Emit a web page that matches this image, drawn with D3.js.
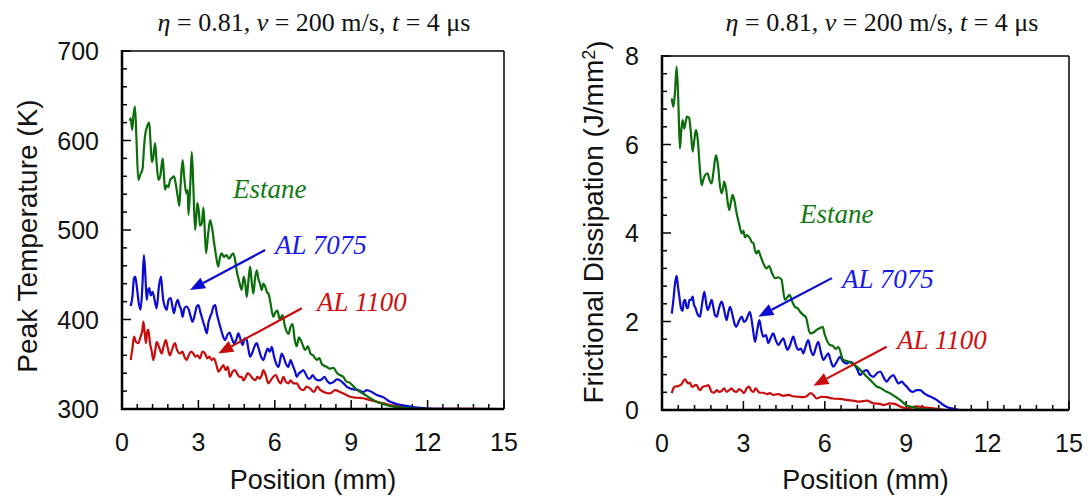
<!DOCTYPE html>
<html><head><meta charset="utf-8">
<script src="https://cdn.jsdelivr.net/npm/d3@7"></script>
<style>body{margin:0;background:#fff}</style>
</head><body><svg id="c" width="1088" height="497"></svg>
<script>
// ---------- data ----------
const xTicks = [0, 3, 6, 9, 12, 15];
const tempTicks = [300, 400, 500, 600, 700];
const dissTicks = [0, 2, 4, 6, 8];
const seriesNames = ["Estane", "AL 7075", "AL 1100"];

// Left: peak temperature (K) vs position (mm)
const tempEstane = [[0.30,622],[0.34,625],[0.40,612],[0.45,628],[0.51,638],[0.57,600],[0.64,556],[0.72,562],[0.81,569],[0.86,590],[0.90,604],[0.98,615],[1.07,620],[1.12,598],[1.17,576],[1.22,580],[1.30,597],[1.36,575],[1.43,556],[1.50,560],[1.60,580],[1.65,560],[1.69,545],[1.75,550],[1.82,548],[1.89,556],[1.96,558],[2.04,560],[2.12,550],[2.20,535],[2.25,527],[2.30,550],[2.38,578],[2.44,560],[2.52,541],[2.58,545],[2.61,517],[2.68,550],[2.74,587],[2.80,550],[2.87,500],[2.93,520],[2.96,530],[3.02,520],[3.06,505],[3.13,507],[3.20,525],[3.30,474],[3.38,495],[3.46,511],[3.55,500],[3.62,485],[3.70,470],[3.78,459],[3.85,470],[3.92,474],[4.00,470],[4.10,472],[4.20,468],[4.30,472],[4.37,474],[4.45,465],[4.50,455],[4.58,445],[4.65,437],[4.70,433],[4.78,448],[4.84,440],[4.90,425],[4.97,445],[5.03,459],[5.10,440],[5.16,429],[5.22,445],[5.29,455],[5.36,445],[5.42,440],[5.49,433],[5.55,440],[5.62,437],[5.70,430],[5.75,429],[5.82,420],[5.94,403],[6.02,408],[6.10,410],[6.20,400],[6.30,405],[6.40,392],[6.54,384],[6.62,392],[6.70,395],[6.78,378],[6.86,370],[6.95,380],[7.05,375],[7.19,366],[7.30,370],[7.40,362],[7.50,360],[7.65,355],[7.75,357],[7.85,350],[8.04,347],[8.15,345],[8.30,346],[8.45,340],[8.55,338],[8.69,336],[8.80,331],[8.96,329],[9.10,325],[9.25,321],[9.48,317],[9.70,313],[10.0,308],[10.3,305],[10.66,302.6],[11.0,301.5],[11.3,300.8],[11.8,300.3],[12.5,300],[15,300]];
const tempAL7075 = [[0.34,415],[0.41,425.6],[0.47,446],[0.52,448],[0.58,437],[0.66,418],[0.73,411],[0.80,437],[0.86,472],[0.92,448],[0.97,422],[1.02,433],[1.07,435],[1.13,427],[1.20,431],[1.28,422],[1.36,412.5],[1.45,437],[1.53,448],[1.58,433],[1.62,422],[1.69,414],[1.75,410.6],[1.83,422],[1.91,424],[1.98,414.5],[2.04,407],[2.11,416],[2.19,422],[2.25,416],[2.32,411],[2.38,403],[2.45,412.5],[2.54,414.5],[2.62,411],[2.70,403],[2.77,397.5],[2.87,407],[2.93,414.5],[3.00,416],[3.07,409],[3.16,400],[3.24,392.5],[3.33,384.5],[3.39,396],[3.46,403],[3.52,407],[3.59,414.5],[3.66,416],[3.72,407],[3.78,400],[3.89,388.5],[3.97,381],[4.05,377],[4.14,383],[4.22,385.5],[4.31,379],[4.40,373.5],[4.48,377],[4.57,384.5],[4.66,377],[4.74,371.5],[4.82,379],[4.90,377],[4.96,367.5],[5.03,358.5],[5.13,364],[5.23,371.5],[5.29,373.5],[5.38,366],[5.46,358.5],[5.55,354.7],[5.64,362],[5.72,367.5],[5.81,364],[5.88,369.5],[5.97,358.5],[6.05,351],[6.14,347],[6.21,354.7],[6.27,362],[6.34,358.5],[6.43,351],[6.53,347],[6.62,354.7],[6.70,349],[6.80,341.7],[6.86,336],[6.95,340],[7.04,341.7],[7.12,343.5],[7.23,338],[7.32,334],[7.38,334],[7.49,338],[7.58,334],[7.71,332],[7.84,333],[7.95,336],[8.04,332],[8.17,328.6],[8.30,330],[8.43,333],[8.56,332],[8.70,328.6],[8.83,324.8],[8.96,323],[9.09,322],[9.29,321],[9.48,319],[9.61,321],[9.81,319],[10.01,315.6],[10.27,313],[10.53,308],[10.79,305.6],[11.05,304],[11.3,302.6],[11.6,301.5],[12.0,300.5],[12.5,300.2],[15,300]];
const tempAL1100 = [[0.34,354.7],[0.41,367.7],[0.47,380.8],[0.55,375],[0.64,373.5],[0.73,380.8],[0.80,388],[0.84,397.6],[0.89,385],[0.94,373.5],[0.99,386.6],[1.03,388.6],[1.10,373.5],[1.17,364],[1.23,354.7],[1.30,364],[1.36,375],[1.45,369.5],[1.56,362],[1.63,369.5],[1.72,377],[1.80,367.7],[1.88,360],[1.98,367.7],[2.08,373.5],[2.16,366],[2.28,362],[2.37,364],[2.45,358.5],[2.54,354.7],[2.62,360],[2.71,364],[2.80,362],[2.88,358.5],[2.97,360],[3.06,356.5],[3.16,364],[3.26,362],[3.35,356.5],[3.43,358.5],[3.52,354.7],[3.61,356.5],[3.69,351],[3.79,341.7],[3.88,345],[3.98,349],[4.07,343.5],[4.15,347],[4.24,336],[4.34,341.7],[4.43,343.5],[4.51,340],[4.61,336],[4.70,336],[4.77,332],[4.86,336],[4.94,340],[5.03,338],[5.13,334],[5.23,332],[5.32,336],[5.40,334],[5.49,338],[5.55,343.5],[5.64,338],[5.75,328.6],[5.84,332],[5.94,336],[6.04,338],[6.14,332],[6.23,328.6],[6.34,336],[6.43,330.5],[6.53,328.6],[6.62,332],[6.73,328.6],[6.86,328.6],[6.99,323],[7.12,321],[7.25,325],[7.38,323],[7.54,319],[7.67,325],[7.80,321],[7.97,318.5],[8.17,317.4],[8.37,321],[8.56,319],[8.76,316.5],[8.96,313.7],[9.22,312.6],[9.48,312],[9.74,310],[10.01,308],[10.27,306.3],[10.66,303.7],[11.05,302],[11.5,301],[12.0,300.3],[15,300]];

// Right: frictional dissipation (J/mm^2) vs position (mm)
const dissEstane = [[0.36,7.04],[0.42,6.85],[0.48,7.2],[0.54,7.76],[0.60,7.0],[0.66,5.91],[0.71,6.3],[0.76,6.55],[0.82,6.36],[0.87,6.5],[0.92,6.63],[1.00,6.6],[1.06,6.3],[1.13,5.84],[1.19,6.1],[1.25,6.33],[1.32,6.1],[1.39,5.5],[1.46,5.08],[1.52,5.2],[1.58,5.3],[1.68,5.35],[1.75,5.2],[1.83,5.12],[1.90,5.4],[1.99,5.76],[2.07,5.5],[2.13,5.1],[2.20,4.9],[2.25,5.0],[2.29,5.16],[2.36,5.0],[2.42,4.7],[2.48,4.52],[2.54,4.7],[2.60,4.86],[2.68,4.7],[2.75,4.45],[2.81,4.29],[2.85,4.18],[2.94,3.99],[3.00,4.05],[3.06,3.9],[3.12,3.95],[3.24,3.88],[3.30,3.8],[3.37,3.77],[3.43,3.6],[3.49,3.54],[3.55,3.6],[3.62,3.5],[3.73,3.32],[3.85,3.2],[3.95,3.25],[4.05,3.1],[4.17,2.98],[4.28,3.0],[4.40,2.95],[4.53,2.49],[4.62,2.55],[4.70,2.6],[4.80,2.45],[4.90,2.33],[5.00,2.3],[5.09,2.22],[5.20,2.15],[5.30,2.1],[5.46,1.73],[5.58,1.75],[5.70,1.81],[5.85,1.86],[5.92,1.88],[6.00,1.7],[6.19,1.47],[6.30,1.45],[6.40,1.38],[6.50,1.42],[6.68,1.13],[6.85,1.1],[7.00,1.05],[7.18,0.98],[7.40,0.85],[7.55,0.75],[7.67,0.68],[7.80,0.6],[7.92,0.53],[8.04,0.5],[8.28,0.41],[8.40,0.38],[8.60,0.3],[8.77,0.23],[9.00,0.11],[9.20,0.07],[9.39,0.04],[9.60,0.02],[9.88,0.01],[10.5,0],[15,0]];
const dissAL7075 = [[0.36,2.18],[0.42,2.49],[0.48,2.86],[0.54,3.03],[0.59,2.78],[0.64,2.56],[0.70,2.30],[0.76,2.24],[0.80,2.45],[0.85,2.49],[0.90,2.33],[0.95,2.30],[1.01,2.49],[1.07,2.49],[1.13,2.56],[1.18,2.37],[1.22,2.33],[1.30,2.18],[1.40,2.11],[1.48,2.41],[1.56,2.67],[1.62,2.45],[1.68,2.26],[1.76,2.37],[1.83,2.49],[1.89,2.33],[1.95,2.15],[2.02,2.11],[2.10,2.30],[2.20,2.45],[2.29,2.26],[2.38,2.03],[2.45,2.22],[2.51,2.33],[2.61,2.11],[2.69,1.92],[2.73,1.88],[2.85,2.03],[2.94,2.11],[3.02,1.99],[3.10,2.03],[3.18,2.15],[3.24,2.22],[3.34,1.88],[3.43,1.54],[3.51,1.81],[3.59,2.03],[3.66,1.81],[3.73,1.66],[3.83,1.69],[3.92,1.51],[4.00,1.62],[4.10,1.73],[4.19,1.58],[4.29,1.47],[4.37,1.54],[4.47,1.62],[4.55,1.47],[4.62,1.36],[4.72,1.47],[4.84,1.66],[4.93,1.47],[5.02,1.36],[5.12,1.39],[5.21,1.28],[5.29,1.43],[5.39,1.58],[5.48,1.36],[5.58,1.24],[5.66,1.39],[5.76,1.54],[5.85,1.32],[5.95,1.13],[6.03,1.20],[6.13,1.28],[6.21,1.13],[6.31,0.98],[6.44,1.09],[6.56,1.20],[6.68,1.09],[6.81,1.05],[6.93,1.09],[7.05,1.05],[7.18,0.94],[7.30,0.79],[7.42,0.87],[7.55,0.90],[7.67,0.79],[7.79,0.75],[7.92,0.83],[8.04,0.87],[8.16,0.75],[8.28,0.64],[8.38,0.72],[8.53,0.79],[8.63,0.68],[8.71,0.60],[8.84,0.64],[8.93,0.58],[9.02,0.53],[9.14,0.44],[9.26,0.41],[9.39,0.45],[9.51,0.45],[9.64,0.39],[9.76,0.34],[9.94,0.29],[10.12,0.23],[10.31,0.14],[10.50,0.07],[10.74,0.03],[11.0,0.0],[15,0]];
const dissAL1100 = [[0.36,0.38],[0.42,0.49],[0.48,0.53],[0.60,0.54],[0.73,0.59],[0.79,0.66],[0.85,0.69],[0.91,0.64],[0.97,0.60],[1.03,0.62],[1.09,0.53],[1.15,0.53],[1.22,0.56],[1.28,0.56],[1.34,0.49],[1.40,0.45],[1.46,0.49],[1.52,0.53],[1.61,0.54],[1.71,0.56],[1.77,0.49],[1.83,0.41],[1.92,0.39],[2.02,0.45],[2.10,0.41],[2.20,0.43],[2.29,0.49],[2.38,0.41],[2.48,0.45],[2.57,0.49],[2.65,0.43],[2.75,0.41],[2.84,0.47],[2.94,0.43],[3.02,0.38],[3.12,0.49],[3.21,0.53],[3.28,0.45],[3.37,0.41],[3.45,0.49],[3.53,0.43],[3.61,0.39],[3.73,0.39],[3.86,0.36],[3.98,0.38],[4.10,0.34],[4.29,0.36],[4.47,0.32],[4.66,0.34],[4.84,0.31],[5.02,0.30],[5.21,0.29],[5.33,0.31],[5.48,0.38],[5.58,0.34],[5.70,0.26],[5.88,0.30],[6.07,0.29],[6.31,0.26],[6.56,0.25],[6.81,0.23],[7.05,0.21],[7.30,0.19],[7.55,0.21],[7.79,0.15],[8.04,0.14],[8.16,0.11],[8.40,0.15],[8.58,0.14],[8.77,0.08],[9.02,0.04],[9.39,0.08],[9.64,0.06],[10.0,0.04],[10.5,0.0],[15,0]];

// annotation anchors in data coordinates: [textX, textY, arrowTailX, arrowTailY, arrowHeadX, arrowHeadY]
const tempNotes = [[4.36,535.8,null,null,null,null],[6.01,473,5.62,477.6,2.67,433],[7.66,409.5,7.06,412.5,3.78,362]];
const dissNotes = [[5.09,4.23,null,null,null,null],[6.63,2.76,6.26,2.98,3.55,2.11],[8.66,1.38,8.28,1.43,5.58,0.55]];

// ---------- drawing ----------
const colors = ["#0b6e0b", "#0a0ad2", "#c80c0c"];
const labelColors = ["#127a12", "#1a1ae6", "#cc1111"];
const svg = d3.select("#c");

const panels = [
  {x0:122, x1:504, y0:51, y1:409, yDom:[300,700], yTicks:tempTicks, yMinor:20, series:[tempEstane,tempAL7075,tempAL1100], notes:tempNotes, ylab:"Peak Temperature (K)", ylabX:27, ylabY:236, titleX:314},
  {x0:662, x1:1069, y0:56, y1:410, yDom:[0,8], yTicks:dissTicks, yMinor:0.4, series:[dissEstane,dissAL7075,dissAL1100], notes:dissNotes, ylab:"Frictional Dissipation (J/mm", ylabX:593, ylabY:222, titleX:882, sup:true}
];

panels.forEach(p => {
  const x = d3.scaleLinear().domain([0,15]).range([p.x0,p.x1]);
  const y = d3.scaleLinear().domain(p.yDom).range([p.y1,p.y0]);
  const g = svg.append("g");

  // title
  const t = g.append("text").attr("x", p.titleX).attr("y", 31).attr("text-anchor","middle")
    .style("font-family","'Liberation Serif','Times New Roman',serif").style("font-size","26px").attr("fill","#111");
  [["η",true],[" = 0.81, ",false],["v",true],[" = 200 m/s, ",false],["t",true],[" = 4 μs",false]]
    .forEach(([s,it]) => t.append("tspan").text(s).style("font-style", it ? "italic" : "normal"));

  // minor ticks
  const xMinor = d3.range(0, 15.0001, 0.6);
  g.selectAll(null).data(xMinor).enter().append("line")
    .attr("x1", d=>x(d)).attr("x2", d=>x(d)).attr("y1", p.y1).attr("y2", d => p.y1 - (Math.abs(d/3-Math.round(d/3))<1e-6 ? 9 : 5))
    .attr("stroke","#000").attr("stroke-width",1.5);
  const yMinor = d3.range(p.yDom[0], p.yDom[1]+1e-6, p.yMinor);
  const step = p.yTicks[1]-p.yTicks[0];
  g.selectAll(null).data(yMinor).enter().append("line")
    .attr("y1", d=>y(d)).attr("y2", d=>y(d)).attr("x1", p.x0).attr("x2", d => p.x0 + (Math.abs(d/step-Math.round(d/step))<1e-6 ? 9 : 5))
    .attr("stroke","#000").attr("stroke-width",1.5);

  // curves
  const line = d3.line().x(d=>x(d[0])).y(d=>y(d[1])).curve(d3.curveMonotoneX);
  [2,1,0].forEach(i => {
    g.append("path").attr("d", line(p.series[i])).attr("fill","none")
      .attr("stroke", colors[i]).attr("stroke-width", 2.2).attr("stroke-linejoin","round");
  });

  // frame
  g.append("line").attr("x1",p.x0).attr("x2",p.x1).attr("y1",p.y0).attr("y2",p.y0).attr("stroke","#000").attr("stroke-width",1.5);
  g.append("line").attr("x1",p.x1).attr("x2",p.x1).attr("y1",p.y0).attr("y2",p.y1).attr("stroke","#000").attr("stroke-width",1.5);
  g.append("line").attr("x1",p.x0).attr("x2",p.x0).attr("y1",p.y0-1).attr("y2",p.y1+1).attr("stroke","#000").attr("stroke-width",2.5);
  g.append("line").attr("x1",p.x0-1).attr("x2",p.x1).attr("y1",p.y1).attr("y2",p.y1).attr("stroke","#000").attr("stroke-width",2.5);

  // tick labels
  const font = "'Liberation Sans',Arial,sans-serif";
  g.selectAll(null).data(xTicks).enter().append("text")
    .attr("x", d=>x(d)).attr("y", p.y1+42).attr("text-anchor","middle")
    .style("font-family",font).style("font-size","25px").attr("fill","#111").text(d=>d);
  g.selectAll(null).data(p.yTicks).enter().append("text")
    .attr("x", p.x0-23).attr("y", d=>y(d)+9).attr("text-anchor","end")
    .style("font-family",font).style("font-size","25px").attr("fill","#111").text(d=>d);

  // axis titles
  g.append("text").attr("x",(p.x0+p.x1)/2).attr("y",489).attr("text-anchor","middle")
    .style("font-family",font).style("font-size","27px").attr("fill","#111").text("Position (mm)");
  const yl = g.append("text").attr("transform",`translate(${p.ylabX},${p.ylabY}) rotate(-90)`)
    .attr("text-anchor","middle").attr("dy","0.35em")
    .style("font-family",font).style("font-size","28px").attr("fill","#111").text(p.ylab);
  if (p.sup) {
    yl.append("tspan").text("2").attr("dy","-0.45em").style("font-size","18px");
    yl.append("tspan").text(")").attr("dy","0.45em");
  }

  // annotations
  p.notes.forEach((n,i) => {
    g.append("text").attr("x", x(n[0])).attr("y", y(n[1]))
      .style("font-family","'Liberation Serif','Times New Roman',serif").style("font-style","italic")
      .style("font-size","27px").attr("fill", labelColors[i]).text(seriesNames[i]);
    if (n[2] !== null) {
      const x1 = x(n[2]), y1 = y(n[3]), x2 = x(n[4]), y2 = y(n[5]);
      const ang = Math.atan2(y2-y1, x2-x1), L = 15, W = 6;
      const bx = x2 - L*Math.cos(ang), by = y2 - L*Math.sin(ang);
      g.append("line").attr("x1",x1).attr("y1",y1).attr("x2",bx).attr("y2",by)
        .attr("stroke",colors[i]).attr("stroke-width",2.2);
      const px = -Math.sin(ang)*W, py = Math.cos(ang)*W;
      g.append("path").attr("d",`M${x2},${y2}L${bx+px},${by+py}L${bx-px},${by-py}Z`).attr("fill",colors[i]);
    }
  });
});
</script></body></html>
